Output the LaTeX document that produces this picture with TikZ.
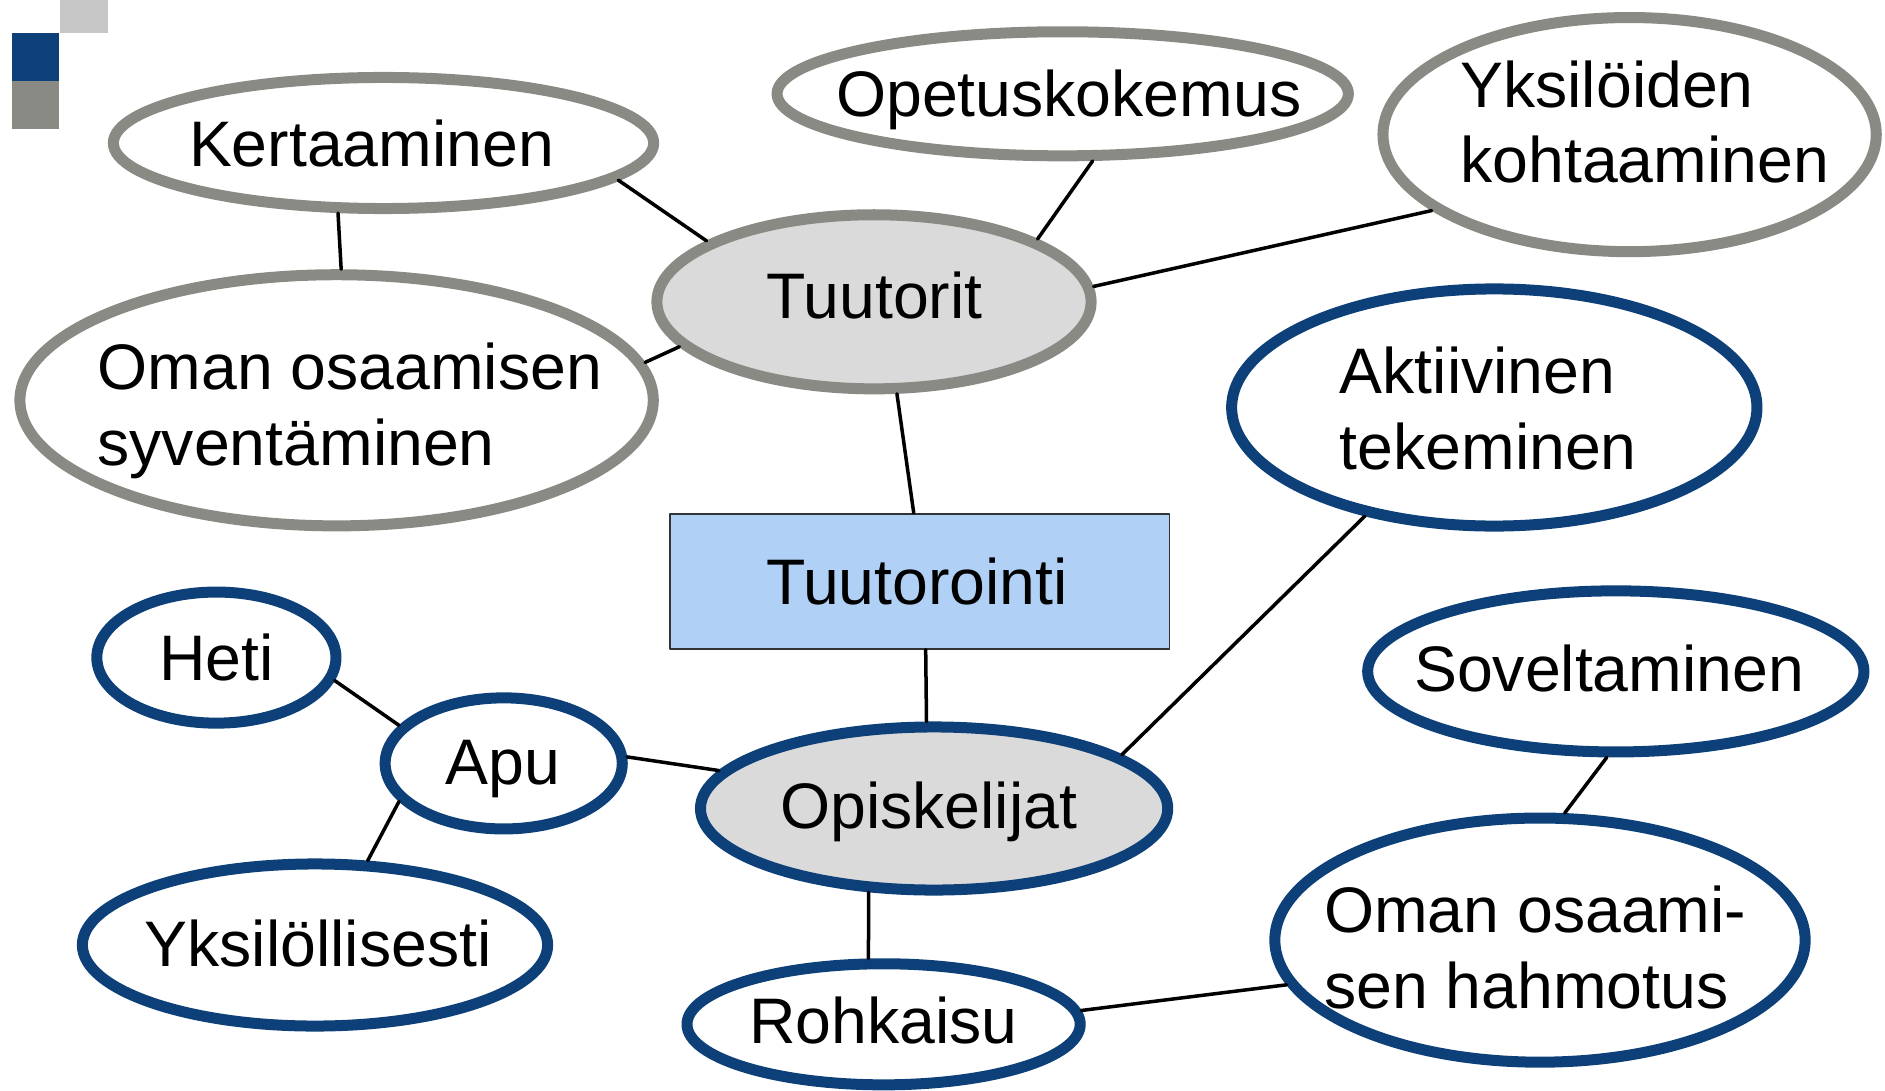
\documentclass[tikz,border=0pt]{standalone}
\usepackage{fontspec}
\setmainfont{Liberation Sans}
\usetikzlibrary{shapes.geometric}
\definecolor{bordergray}{rgb}{0.54,0.54,0.52}
\definecolor{borderblue}{rgb}{0.05,0.25,0.47}
\definecolor{fillgray}{rgb}{0.855,0.855,0.855}
\definecolor{fillblue}{rgb}{0.69,0.82,0.96}
\definecolor{squaregray}{rgb}{0.78,0.78,0.78}

\begin{document}
\begin{tikzpicture}[line cap=round,line join=round,x=0.01cm,y=-0.01cm,
  oval/.style={ellipse,line width=0.11cm,fill=white,inner sep=0pt},
  tutor/.style={oval,draw=bordergray},
  student/.style={oval,draw=borderblue},
  txt/.style={font=\fontsize{18.3}{21.6}\selectfont,inner sep=0pt,align=left},
  one/.style={txt,text height=13.1pt,text depth=0pt},
  link/.style={line width=0.035cm}]
\useasboundingbox (0,0) rectangle (1885,1091);
% corner squares
\fill[squaregray] (60,0) rectangle (108,33);
\fill[borderblue] (12,33) rectangle (59,81);
\fill[bordergray] (12,81) rectangle (59,129);
% tutor side
\node[tutor,minimum width=5.40cm,minimum height=1.31cm] (kert) at (383.5,143) {};
\node[tutor,minimum width=5.71cm,minimum height=1.24cm] (opet) at (1062.7,93.8) {};
\node[tutor,minimum width=4.93cm,minimum height=2.34cm] (yksi) at (1629.6,134.6) {};
\node[tutor,fill=fillgray,minimum width=4.34cm,minimum height=1.74cm] (tuut) at (874,301.8) {};
\node[tutor,minimum width=6.33cm,minimum height=2.51cm] (omas) at (336.6,400.3) {};
\node[one] (kertT) at (371.5,143.1) {Kertaaminen};
\node[one] (opetT) at (1068.8,93.2) {Opetuskokemus};
\node[txt] (yksiT) at (1644.6,122) {Yksilöiden\\kohtaaminen};
\node[one] (tuutT) at (874.6,295.7) {Tuutorit};
\node[txt] (omasT) at (349.8,410.6) {Oman osaamisen\\syventäminen};
% center
\node[draw=black!80,line width=0.015cm,fill=fillblue,minimum width=4.99cm,minimum height=1.35cm] (tuto) at (919.7,581.3) {};
\node[one] (tutoT) at (917,581) {Tuutorointi};
% student side
\node[student,minimum width=5.25cm,minimum height=2.37cm] (akti) at (1494.3,407.5) {};
\node[student,minimum width=2.39cm,minimum height=1.31cm] (heti) at (216.4,657.6) {};
\node[student,minimum width=2.37cm,minimum height=1.31cm] (apu) at (503.7,763.4) {};
\node[student,fill=fillgray,minimum width=4.67cm,minimum height=1.63cm] (opis) at (934.1,808.5) {};
\node[student,minimum width=4.96cm,minimum height=1.61cm] (sove) at (1615.8,671.4) {};
\node[student,minimum width=4.65cm,minimum height=1.62cm] (yksl) at (315,945) {};
\node[student,minimum width=5.30cm,minimum height=2.44cm] (hahm) at (1540,940.1) {};
\node[student,minimum width=3.93cm,minimum height=1.21cm] (rohk) at (883.6,1024.3) {};
\node[txt] (aktiT) at (1488.3,408.7) {Aktiivinen\\tekeminen};
\node[one] (hetiT) at (216.4,657.6) {Heti};
\node[one] (apuT) at (503.1,761) {Apu};
\node[one] (opisT) at (928.7,805.5) {Opiskelijat};
\node[one] (soveT) at (1609.1,668.4) {Soveltaminen};
\node[one] (ykslT) at (318,943.7) {Yksilöllisesti};
\node[txt] (hahmT) at (1535.2,947.9) {Oman osaami-\\sen hahmotus};
\node[one] (rohkT) at (883.6,1020.7) {Rohkaisu};
% connectors
\draw[link] (kert.-9) -- (tuut.160);
\draw[link] (kert.-123) -- (omas.88);
\draw[link] (omas.7) -- (tuut.-167);
\draw[link] (opet.-66) -- (tuut.21);
\draw[link] (yksi.-159) -- (tuut.4);
\draw[link] (tuut.-76) -- (tuto.95);
\draw[link] (tuto.-85) -- (opis.95);
\draw[link] (akti.-140) -- (opis.16);
\draw[link] (heti.-11) -- (apu.160);
\draw[link] (apu.3) -- (opis.170);
\draw[link] (apu.-160) -- (yksl.58);
\draw[link] (opis.-128) -- (rohk.103);
\draw[link] (sove.-96) -- (hahm.79);
\draw[link] (rohk.4) -- (hahm.-170);
\end{tikzpicture}
\end{document}
